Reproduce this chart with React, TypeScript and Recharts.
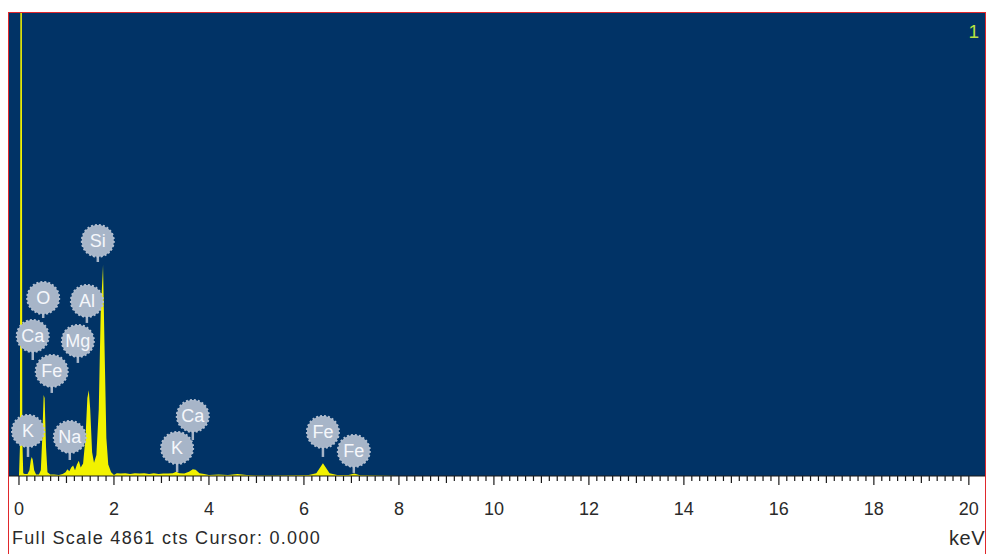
import React from 'react'
import {
  AreaChart, Area, XAxis, YAxis, CartesianGrid, ReferenceDot, ReferenceLine,
} from 'recharts'

const FULL_SCALE = 4861

// spectrum channels (keV) and counts
const energy = [
  -0.21, 0.0, 0.02, 0.03, 0.06, 0.07, 0.09, 0.12, 0.18, 0.22, 0.25, 0.27, 0.29, 0.32, 0.36,
  0.42, 0.46, 0.49, 0.52, 0.54, 0.57, 0.6, 0.66, 0.74, 0.84, 0.92, 0.98, 1.02, 1.06, 1.1,
  1.14, 1.18, 1.22, 1.26, 1.3, 1.35, 1.4, 1.44, 1.47, 1.5, 1.54, 1.58, 1.63, 1.68, 1.72,
  1.77, 1.8, 1.84, 1.88, 1.94, 2.0, 2.06, 2.14, 2.24, 2.34, 2.44, 2.54, 2.64, 2.74, 2.84,
  2.94, 3.04, 3.14, 3.24, 3.31, 3.38, 3.48, 3.58, 3.66, 3.72, 3.8, 3.9, 4.0, 4.2, 4.4,
  4.6, 4.8, 5.0, 5.4, 5.8, 6.1, 6.26, 6.4, 6.54, 6.7, 6.94, 7.06, 7.18, 7.5, 8.0, 20.34,
]
const counts = [
  0, 0, 300, 5400, 5400, 400, 30, 20, 20, 60, 170, 200, 170, 60, 15,
  15, 60, 400, 850, 820, 300, 40, 15, 15, 10, 20, 40, 70, 50, 90,
  110, 60, 120, 160, 90, 130, 400, 820, 900, 700, 250, 140, 220, 700, 1700,
  2215, 1400, 400, 120, 40, 10, 30, 25, 30, 20, 30, 25, 30, 20, 30,
  20, 25, 25, 30, 45, 30, 25, 45, 70, 65, 30, 20, 10, 15, 10,
  20, 10, 5, 5, 8, 10, 30, 135, 30, 10, 10, 25, 8, 5, 0, 0,
]

// element markers: label, keV, badge centre and stem foot (counts)
const markerLabels = ['Si', 'O', 'Al', 'Ca', 'Mg', 'Fe', 'K', 'Na', 'Ca', 'K', 'Fe', 'Fe']
const markerKeV = [1.66, 0.51, 1.43, 0.29, 1.24, 0.69, 0.19, 1.07, 3.66, 3.33, 6.4, 7.05]
const markerTop = [2468, 1869, 1838, 1470, 1418, 1103, 473, 410, 630, 294, 462, 263]
const markerBase = [2247, 1659, 1607, 1218, 1187, 872, 200, 168, 378, 42, 200, 32]

const majorTicks = [0, 2, 4, 6, 8, 10, 12, 14, 16, 18, 20]
const tickStep = 1 / 6

const allTicks: number[] = []
for (let i = 0; i <= 120; i++) allTicks.push(+(i * tickStep).toFixed(4))

const data = energy.map((e, i) => ({ e, c: counts[i] }))

const BLUE = '#013366'
const FONT = '"Liberation Sans", Arial, sans-serif'

function Tick(props: any) {
  const { x, y, payload } = props
  const v = payload.value
  const isMajor = majorTicks.some((m) => Math.abs(m - v) < 1e-3)
  const isOdd = !isMajor && Math.abs(v - Math.round(v)) < 1e-3
  const len = isMajor ? 9 : isOdd ? 7 : 5
  return (
    <g>
      <line x1={x} x2={x} y1={y} y2={y + len} stroke="#1a1a1a" strokeWidth={1.2} />
      {isMajor && (
        <text x={x} y={y + 39} textAnchor="middle" fontSize={18} fill="#2a2a2a" fontFamily={FONT}>
          {Math.round(v)}
        </text>
      )}
    </g>
  )
}

function Badge(label: string) {
  return (props: any) => {
    const { cx, cy } = props
    return (
      <g>
        <circle cx={cx} cy={cy} r={16} fill="#a7b5c8" stroke="#b3bfd0" strokeWidth={2} strokeDasharray="2 2" />
        <text x={cx} y={cy + 6.5} textAnchor="middle" fontSize={18} fill="#f5f7fb" fontFamily={FONT}>
          {label}
        </text>
      </g>
    )
  }
}

export default function App() {
  return (
    <div
      style={{
        position: 'absolute', left: 8, top: 12, width: 976, height: 542,
        borderTop: '1px solid #e0282c', borderLeft: '1px solid #e0282c', borderRight: '1px solid #e0282c',
        background: '#fff', overflow: 'hidden',
      }}
    >
      <AreaChart width={976} height={541} data={data} margin={{ top: 0, right: 0, left: 0, bottom: 0 }}>
        <CartesianGrid fill={BLUE} stroke="none" horizontal={false} vertical={false} />
        <XAxis
          dataKey="e"
          type="number"
          domain={[-0.21, 20.34]}
          ticks={allTicks}
          interval={0}
          height={78}
          tickSize={0}
          tickMargin={0}
          tickLine={false}
          axisLine={{ stroke: '#1a1a1a', strokeWidth: 1.2 }}
          tick={<Tick />}
          allowDataOverflow
        />
        <YAxis hide domain={[0, FULL_SCALE]} allowDataOverflow />
        <Area
          type="linear"
          dataKey="c"
          stroke="none"
          fill="#f2f200"
          fillOpacity={1}
          isAnimationActive={false}
          dot={false}
          activeDot={false}
        />
        {markerLabels.map((l, i) => (
          <ReferenceLine
            key={`s${i}`}
            segment={[{ x: markerKeV[i], y: markerBase[i] }, { x: markerKeV[i], y: markerTop[i] }]}
            stroke="#a7b5c8"
            strokeWidth={2.5}
          />
        ))}
        {markerLabels.map((l, i) => (
          <ReferenceDot key={`b${i}`} x={markerKeV[i]} y={markerTop[i]} r={16} shape={Badge(l)} />
        ))}
      </AreaChart>
      <div style={{ position: 'absolute', right: 6, top: 8, color: '#b8e040', fontFamily: FONT, fontSize: 19 }}>1</div>
      <div
        style={{
          position: 'absolute', left: 3, top: 515, color: '#2a2a2a', fontFamily: FONT, fontSize: 18,
          letterSpacing: 1.3, whiteSpace: 'nowrap',
        }}
      >
        Full Scale {FULL_SCALE} cts Cursor: 0.000
      </div>
      <div
        style={{
          position: 'absolute', right: 0, top: 514, color: '#2a2a2a', fontFamily: FONT, fontSize: 20,
          letterSpacing: 0.5,
        }}
      >
        keV
      </div>
    </div>
  )
}
